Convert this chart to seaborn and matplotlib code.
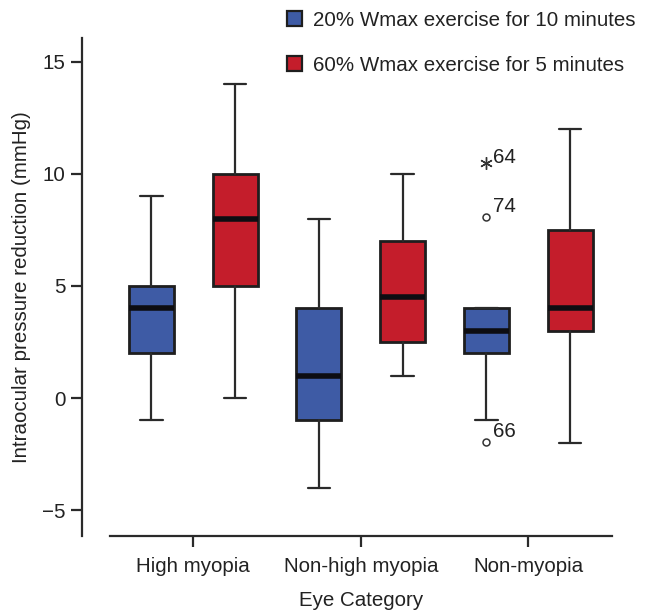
import matplotlib
matplotlib.use("Agg")
import matplotlib.pyplot as plt
from matplotlib.patches import Patch
import seaborn as sns
import numpy as np

categories = ["High myopia", "Non-high myopia", "Non-myopia"]
groups = ["20% Wmax exercise for 10 minutes", "60% Wmax exercise for 5 minutes"]

low_whisker_20 = [-1, -4, -1]
q1_20 = [2, -1, 2]
med_20 = [4, 1, 3]
q3_20 = [5, 4, 4]
high_whisker_20 = [9, 8, 4]

low_whisker_60 = [0, 1, -2]
q1_60 = [5, 2.5, 3]
med_60 = [8, 4.5, 4]
q3_60 = [10, 7, 7.5]
high_whisker_60 = [14, 10, 12]

outlier_category = ["Non-myopia", "Non-myopia", "Non-myopia"]
outlier_group = [0, 0, 0]
outlier_values = [10.5, 8.1, -1.95]
outlier_labels = ["64", "74", "66"]
outlier_markers = ["asterisk", "circle", "circle"]

colors = ["#3E5BA5", "#C41D2B"]
edge = "#1e1e1e"

sns.set_style("ticks")
plt.rcParams['font.family'] = ['Liberation Sans', 'DejaVu Sans']
plt.rcParams['axes.unicode_minus'] = True

fig = plt.figure(figsize=(6.51, 6.13), dpi=100)
ax = fig.add_axes([109.5/651, 1-536/613, (612-109.5)/651, (536-38)/613])

offset = 0.25
width = 0.27
stats_sets = [
    (low_whisker_20, q1_20, med_20, q3_20, high_whisker_20),
    (low_whisker_60, q1_60, med_60, q3_60, high_whisker_60),
]
for gi, (lw, q1, md, q3, hw) in enumerate(stats_sets):
    stats = []
    for ci in range(len(categories)):
        stats.append(dict(whislo=lw[ci], q1=q1[ci], med=md[ci], q3=q3[ci],
                          whishi=hw[ci], fliers=[]))
    pos = [ci + (gi - 0.5) * 2 * offset for ci in range(len(categories))]
    ax.bxp(stats, positions=pos, widths=width, capwidths=width * 0.5,
           patch_artist=True, showfliers=False, manage_ticks=False,
           boxprops=dict(facecolor=colors[gi], edgecolor=edge, linewidth=2.0),
           medianprops=dict(color="#0d0d12", linewidth=4.0, solid_capstyle='butt'),
           whiskerprops=dict(color="#2a2a2a", linewidth=1.6),
           capprops=dict(color="#2a2a2a", linewidth=1.6))

# outliers
for cat, g, v, lab, mk in zip(outlier_category, outlier_group, outlier_values,
                              outlier_labels, outlier_markers):
    x = categories.index(cat) + (g - 0.5) * 2 * offset
    if mk == "asterisk":
        ax.plot([x], [v], marker=(6, 2, 0), markersize=9, color="#333333",
                markeredgewidth=1.0, linestyle='none')
        dy = 4
    else:
        ax.plot([x], [v], marker='o', markersize=5, markerfacecolor='white',
                markeredgecolor="#333333", markeredgewidth=1.1, linestyle='none')
        dy = 7
    ax.annotate(lab, (x, v), xytext=(5, dy), textcoords='offset points',
                fontsize=14.8, color="#222222", ha='left', va='center')

ax.set_xlim(-0.5, 2.5)
ax.set_ylim(-6.16, 16.07)
ax.set_xticks(range(len(categories)))
ax.set_xticklabels(categories)
ax.set_yticks([-5, 0, 5, 10, 15])

for s in ['top', 'right']:
    ax.spines[s].set_visible(False)
ax.spines['left'].set_position(('outward', 19.5))
for s in ['left', 'bottom']:
    ax.spines[s].set_linewidth(1.6)
    ax.spines[s].set_color("#2a2a2a")
ax.tick_params(axis='both', length=8, width=1.6, color="#2a2a2a",
               labelsize=14.8, labelcolor="#222222", pad=4)
ax.tick_params(axis='x', pad=7)

ax.set_xlabel("Eye Category", fontsize=14.8, color="#222222", labelpad=11)
ax.set_ylabel("Intraocular pressure reduction (mmHg)", fontsize=14.8,
              color="#222222", labelpad=8)

handles = [Patch(facecolor=colors[i], edgecolor=edge, linewidth=1.6) for i in range(2)]
fig.legend(handles, groups, loc='upper left', bbox_to_anchor=(287/651, 1-11/613),
           frameon=False, fontsize=14.8, handlelength=0.75, handleheight=0.75,
           handletextpad=0.5, labelspacing=1.26, borderpad=0, borderaxespad=0,
           labelcolor="#222222")

fig.savefig("out.png", dpi=100)
